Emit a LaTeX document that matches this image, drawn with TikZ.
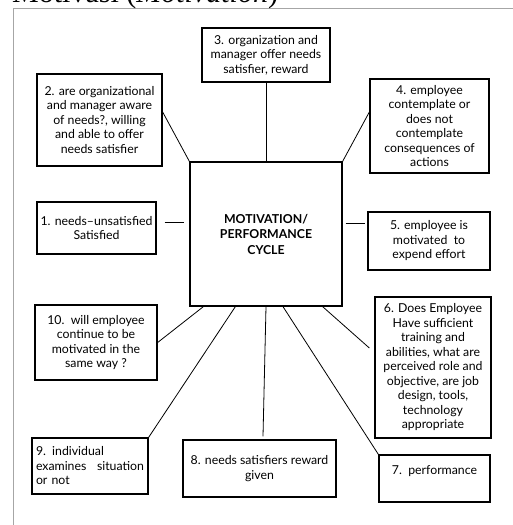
\documentclass[tikz,border=0pt]{standalone}
\usepackage{fontspec}
\setmainfont{Lato}
\newfontfamily\titlefont{Liberation Serif}
\begin{document}
\begin{tikzpicture}[x=1pt,y=-1pt,
  box/.style={draw, line width=1.3pt, inner sep=0pt, align=center,
    font=\fontsize{12.3}{14.5}\selectfont},
  link/.style={line width=0.8pt}]
\clip (0,0) rectangle (513,525);
% frame and title
\draw[gray!70, line width=0.8pt] (13,525) -- (13,8) -- (513,8);
\node[anchor=base west, inner sep=0pt, font=\titlefont\fontsize{30}{30}\selectfont] (title) at (12,2.5) {Motivasi (\textit{Motivation})};
% boxes
\node[box, minimum width=152pt, minimum height=144pt, font=\bfseries\fontsize{12.3}{15.5}\selectfont] (nc) at (266,234) {MOTIVATION/\\PERFORMANCE\\CYCLE};
\node[box, minimum width=128pt, minimum height=54pt] (n3) at (266,55) {3. organization and\\manager offer needs\\satisfier, reward};
\node[box, minimum width=125pt, minimum height=92pt] (n2) at (99.5,120) {2. are organizational\\and manager aware\\of needs?, willing\\and able to offer\\needs satisfier};
\node[box, minimum width=119pt, minimum height=94pt] (n4) at (429.5,126) {4. employee\\contemplate or\\does not\\contemplate\\consequences of\\actions};
\node[box, minimum width=119pt, minimum height=52pt] (n1) at (96.5,228) {1. needs--unsatisfied\\Satisfied};
\node[box, minimum width=122pt, minimum height=58pt] (n5) at (429,241) {5. employee is\\motivated\ \ to\\expend effort};
\node[box, minimum width=122pt, minimum height=75pt] (n10) at (96,342.5) {10.\ \ will employee\\continue to be\\motivated in the\\same way ?};
\node[box, minimum width=116pt, minimum height=141pt] (n6) at (433,367.5) {6. Does Employee\\Have sufficient\\training and\\abilities, what are\\perceived role and\\objective, are job\\design, tools,\\technology\\appropriate};
\node[box, minimum width=116pt, minimum height=56pt, align=left, text width=108pt] (n9) at (90,466) {9. individual\\examines\hfill situation\\or not};
\node[box, minimum width=153pt, minimum height=57pt] (n8) at (259.5,468.5) {8. needs satisfiers reward\\given};
\node[box, minimum width=111pt, minimum height=47pt] (n7) at (434.5,478.5) {7.\ \ performance\\[3pt]};
% connectors
\draw[link] (n3.south) -- (nc.north);
\draw[link] ([yshift=8pt]n2.east) -- (nc.north west);
\draw[link] ([yshift=14pt]n4.west) -- (nc.north east);
\draw[link] ([xshift=8pt,yshift=6pt]n1.east) -- ([xshift=-5pt,yshift=12pt]nc.west);
\draw[link] ([xshift=3pt,yshift=11pt]nc.east) -- ([xshift=-2pt,yshift=18pt]n5.west);
\draw[link] ([xshift=14pt]nc.south west) -- (n10.east);
\draw[link] ([xshift=46pt]nc.south west) -- (n9.north east);
\draw[link] (nc.south) -- ([xshift=3.5pt,yshift=3pt]n8.north);
\draw[link] ([xshift=17pt]nc.south) -- (n7.north west);
\draw[link] ([xshift=-20pt]nc.south east) -- ([xshift=-5pt,yshift=19.5pt]n6.west);
\end{tikzpicture}
\end{document}
